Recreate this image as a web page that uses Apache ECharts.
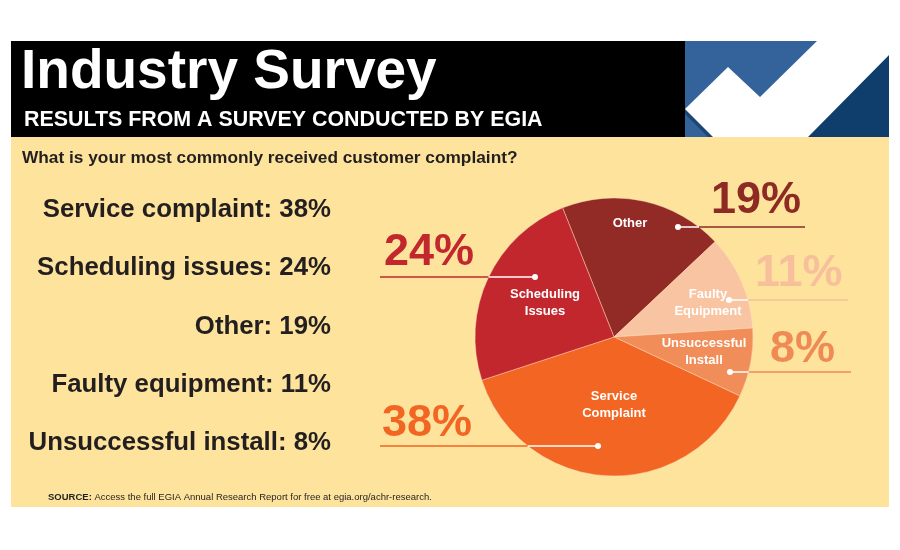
<!DOCTYPE html>
<html><head><meta charset="utf-8">
<script src="https://cdn.jsdelivr.net/npm/echarts@6/dist/echarts.min.js"></script>
<style>html,body{margin:0;padding:0;background:#fff}#c{width:900px;height:550px}</style>
</head><body><div id="c"></div>
<script>
// ---- data ----
const title = 'Industry Survey';
const subtitle = 'RESULTS FROM A SURVEY CONDUCTED BY EGIA';
const question = 'What is your most commonly received customer complaint?';
const categories = ['Service complaint', 'Scheduling issues', 'Other', 'Faulty equipment', 'Unsuccessful install'];
const pieNames = ['Service\nComplaint', 'Scheduling\nIssues', 'Other', 'Faulty\nEquipment', 'Unsuccessful\nInstall'];
const values = [38, 24, 19, 11, 8];
const pieOrder = [2, 3, 4, 0, 1]; // clockwise drawing order of slices
const sourceText = 'Access the full EGIA Annual Research Report for free at egia.org/achr-research.';

// ---- styles ----
const sliceColors = ['#f26522', '#c1272d', '#922b26', '#f9c4a2', '#f18d59'];
const pctColors = ['#f26522', '#c1272d', '#8e2a24', '#f7bf9b', '#f08a55'];
const FONT = '"Liberation Sans", Arial, sans-serif';
const CX = 614, CY = 337, R = 139;
// label centres inside slices
const namePos = [[614, 405], [545, 303], [630, 223], [708, 303], [704, 352]];
// leader: dot, line end x ; percent text left x and cap-centre y
const leaders = [
  {dot: [598, 446], end: 380, tx: 382, ty: 424},
  {dot: [535, 277], end: 380, tx: 384, ty: 253},
  {dot: [678, 227], end: 805, tx: 711, ty: 201},
  {dot: [729, 300], end: 848, tx: 755, ty: 274},
  {dot: [730, 372], end: 851, tx: 770, ty: 350}
];

const chart = echarts.init(document.getElementById('c'), null, {renderer: 'canvas'});

const g = [];
// panel backgrounds
g.push({type: 'rect', z: 0, shape: {x: 11, y: 41, width: 878, height: 466}, style: {fill: '#fde39b'}});
g.push({type: 'rect', z: 1, shape: {x: 11, y: 41, width: 675, height: 96}, style: {fill: '#000'}});
// checkmark block
g.push({type: 'rect', z: 1, shape: {x: 685, y: 41, width: 204, height: 96}, style: {fill: '#34639c'}});
g.push({type: 'polygon', z: 2, shape: {points: [[889, 55], [889, 137], [808, 137]]}, style: {fill: '#0f3e6d'}});
g.push({type: 'polygon', z: 2, shape: {points: [[685, 109], [713, 137], [708, 137], [685, 114]]}, style: {fill: '#1d4675'}});
g.push({type: 'polygon', z: 3, shape: {points: [[685, 109], [728, 67], [760, 97], [817, 41], [889, 41], [889, 55], [808, 137], [713, 137]]}, style: {fill: '#fff'}});
// titles
g.push({type: 'text', z: 4, style: {x: 21, y: 73, text: title, fill: '#fff', font: 'bold 55px ' + FONT, verticalAlign: 'middle'}});
g.push({type: 'text', z: 4, style: {x: 24, y: 120, text: subtitle, fill: '#fff', font: 'bold 21.4px ' + FONT, verticalAlign: 'middle'}});
g.push({type: 'text', z: 4, style: {x: 22, y: 158.5, text: question, fill: '#231f20', font: 'bold 17.3px ' + FONT, verticalAlign: 'middle'}});
// left list
categories.forEach((c, i) => {
  g.push({type: 'text', z: 4, style: {x: 331, y: 210 + i * 58.3, text: c + ': ' + values[i] + '%', fill: '#231f20',
    font: 'bold 25.8px ' + FONT, align: 'right', verticalAlign: 'middle'}});
});
// source
g.push({type: 'text', z: 4, style: {x: 48, y: 497, verticalAlign: 'middle',
  text: '{b|SOURCE:} ' + sourceText,
  rich: {b: {font: 'bold 9.5px ' + FONT, fill: '#231f20'}},
  font: '9.5px ' + FONT, fill: '#231f20'}});
// leaders and big percentages
leaders.forEach((L, i) => {
  const [dx, dy] = L.dot;
  const off = Math.sqrt(R * R - (dy - CY) * (dy - CY));
  const edge = L.end < dx ? CX - off : CX + off;
  g.push({type: 'line', z: 20, shape: {x1: edge, y1: dy, x2: L.end, y2: dy}, style: {stroke: pctColors[i], lineWidth: 1.5}});
  g.push({type: 'line', z: 20, shape: {x1: dx, y1: dy, x2: edge, y2: dy}, style: {stroke: '#fff', lineWidth: 1.5}});
  g.push({type: 'circle', z: 21, shape: {cx: dx, cy: dy, r: 3}, style: {fill: '#fff'}});
  g.push({type: 'text', z: 20, style: {x: L.tx, y: L.ty, text: values[i] + '%', fill: pctColors[i],
    font: 'bold 45px ' + FONT, verticalAlign: 'middle'}});
});

const pieData = pieOrder.map(i => ({name: pieNames[i], value: values[i], itemStyle: {color: sliceColors[i]}}));

chart.setOption({
  animation: false,
  backgroundColor: '#fff',
  graphic: g,
  series: [{
    type: 'pie',
    z: 5,
    center: [CX, CY],
    radius: [0, R],
    startAngle: 111.7,
    clockwise: true,
    data: pieData,
    itemStyle: {borderColor: 'rgba(255,225,200,0.55)', borderWidth: 0.8},
    label: {show: true, position: 'inside', formatter: p => p.name, color: '#fff',
      fontFamily: FONT, fontWeight: 'bold', fontSize: 13, lineHeight: 17, align: 'center'},
    labelLine: {show: false},
    labelLayout: p => {
      const i = pieOrder[p.dataIndex];
      return {x: namePos[i][0], y: namePos[i][1], align: 'center', verticalAlign: 'middle'};
    },
    emphasis: {disabled: true}
  }]
});
</script></body></html>
